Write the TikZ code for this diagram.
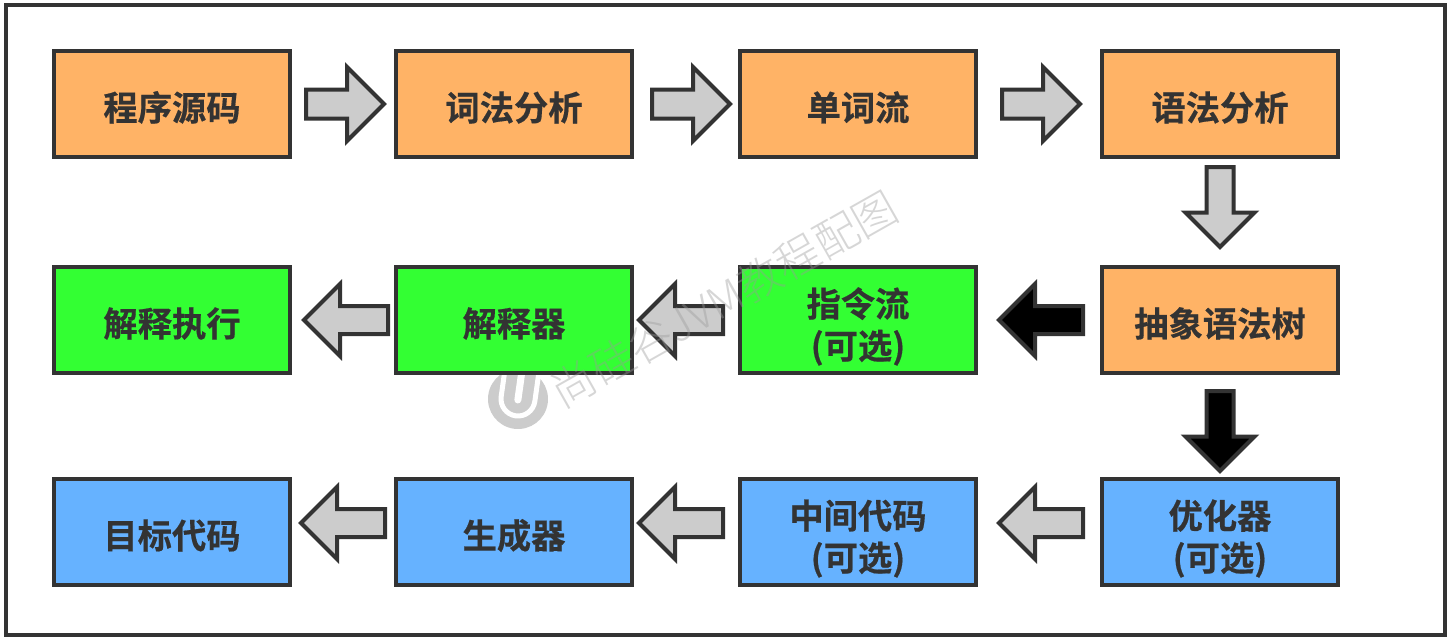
\documentclass[tikz,border=0pt]{standalone}
\usepackage{fontspec}
\usetikzlibrary{shapes.arrows}
\newfontfamily\cjkb[FakeBold=0.5]{Noto Sans CJK SC Bold}
\newfontfamily\cjkr{Noto Sans CJK SC Light}
\definecolor{ink}{HTML}{333333}
\definecolor{orangebox}{HTML}{FFB366}
\definecolor{greenbox}{HTML}{33FF33}
\definecolor{bluebox}{HTML}{66B2FF}
\definecolor{arrowgray}{HTML}{CCCCCC}
\definecolor{wm}{HTML}{9A9A9A}
\newcommand\oneline[1]{\raisebox{-16.5pt}[0pt][0pt]{#1}}
\newcommand\twolines[2]{\raisebox{-15.5pt}[0pt][0pt]{\begin{tabular}{@{}c@{}}#1\\#2\end{tabular}}}
\tikzset{
  x=1pt,y=-1pt,
  stepbox/.style={draw=ink,line width=4pt,minimum width=236pt,minimum height=106pt,inner sep=0pt,outer sep=0pt,
    text=ink,align=center,font=\cjkb\fontsize{34.3}{42}\selectfont},
  orangeb/.style={stepbox,fill=orangebox},
  greenb/.style={stepbox,fill=greenbox},
  blueb/.style={stepbox,fill=bluebox},
  blockarrow/.style={shape=single arrow,draw=ink,line width=4pt,fill=arrowgray,outer sep=0pt,
    single arrow tip angle=90,anchor=tail},
  rightarrow/.style={blockarrow,inner sep=12.5pt,minimum width=70pt,minimum height=78pt,single arrow head extend=22.5pt},
  leftarrow/.style={blockarrow,rotate=180,inner sep=12pt,minimum width=68pt,minimum height=84pt,single arrow head extend=22pt},
  downarrow/.style={blockarrow,rotate=-90,inner sep=11.5pt,minimum width=65pt,minimum height=80pt,single arrow head extend=21pt},
  blackfill/.style={fill=black},
  watermark/.style={text=wm,opacity=.4,font=\cjkr\fontsize{44}{44}\selectfont,rotate=29.5,inner sep=0pt},
}
\begin{document}
\begin{tikzpicture}
\useasboundingbox (0,0) rectangle (1451,640);
\fill[white] (0,0) rectangle (1451,640);
\node[draw=ink,line width=4pt,minimum width=1439pt,minimum height=630pt,inner sep=0pt,outer sep=0pt] (frame) at (725,320) {};
% logo under the boxes
\begin{scope}[shift={(518,399)},rotate=-8]
\fill[arrowgray] (0,0) circle (30);
\draw[white,line width=5pt] (-17,-32) -- (-17,0) arc[start angle=180,end angle=0,radius=17] -- (17,-32);
\draw[white,line width=7pt,line cap=round] (0,-34) -- (0,1);
\end{scope}
% row 1
\node[orangeb] (a1) at (172,104) {\oneline{程序源码}};
\node[orangeb] (a2) at (514,104) {\oneline{词法分析}};
\node[orangeb] (a3) at (858,104) {\oneline{单词流}};
\node[orangeb] (a4) at (1220,104) {\oneline{语法分析}};
% row 2
\node[greenb] (b1) at (172,320) {\oneline{解释执行}};
\node[greenb] (b2) at (514,320) {\oneline{解释器}};
\node[greenb] (b3) at (858,320) {\twolines{指令流}{(可选)}};
\node[orangeb] (b4) at (1220,320) {\oneline{抽象语法树}};
% row 3
\node[blueb] (c1) at (172,532) {\oneline{目标代码}};
\node[blueb] (c2) at (514,532) {\oneline{生成器}};
\node[blueb] (c3) at (858,532) {\twolines{中间代码}{(可选)}};
\node[blueb] (c4) at (1220,532) {\twolines{优化器}{(可选)}};
% arrows
\node[rightarrow] (r1) at (306,104) {};
\node[rightarrow] (r2) at (652,104) {};
\node[rightarrow] (r3) at (1002,104) {};
\node[downarrow] (d1) at (1220,167) {};
\node[leftarrow] (l1) at (388,320) {};
\node[leftarrow] (l2) at (723,320) {};
\node[leftarrow,blackfill] (l3) at (1083,320) {};
\node[downarrow,blackfill] (d2) at (1220,391) {};
\node[leftarrow] (m1) at (385,523) {};
\node[leftarrow] (m2) at (723,523) {};
\node[leftarrow] (m3) at (1083,523) {};
% watermark
\node[watermark] (wmtext) at (724,299) {尚硅谷JVM教程配图};
\end{tikzpicture}
\end{document}
